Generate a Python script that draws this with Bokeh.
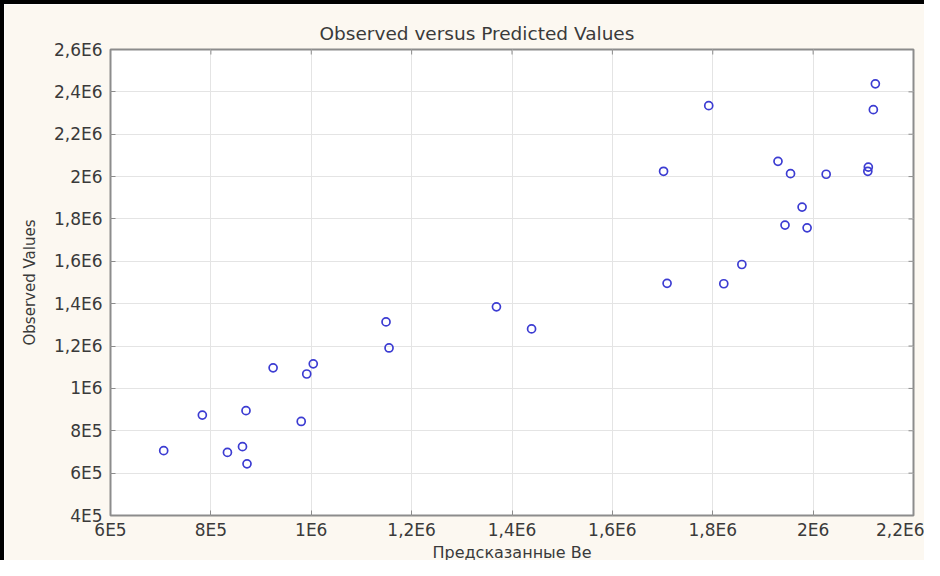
import math
from bokeh.plotting import figure
from bokeh.models import LinearAxis, FixedTicker, Range1d, Title
from bokeh.embed import file_html
from bokeh.resources import INLINE

# ---- data ----
predicted = [706e3, 783e3, 833e3, 863e3, 872e3, 870e3, 924e3, 980e3, 991e3, 1004e3,
             1149e3, 1155e3, 1369e3, 1439e3, 1702e3, 1709e3, 1792e3, 1822e3, 1858e3,
             1930e3, 1955e3, 1944e3, 1978e3, 1988e3, 2026e3, 2110e3, 2109e3, 2120e3, 2124e3]
observed = [706e3, 874e3, 698e3, 725e3, 644e3, 895e3, 1097e3, 844e3, 1068e3, 1116e3,
            1314e3, 1191e3, 1385e3, 1281e3, 2025e3, 1496e3, 2335e3, 1494e3, 1585e3,
            2072e3, 2014e3, 1771e3, 1856e3, 1758e3, 2011e3, 2045e3, 2025e3, 2316e3, 2438e3]

x_ticks = [6e5, 8e5, 1e6, 1.2e6, 1.4e6, 1.6e6, 1.8e6, 2e6, 2.2e6]
x_tick_labels = ["6E5", "8E5", "1E6", "1,2E6", "1,4E6", "1,6E6", "1,8E6", "2E6", "2,2E6"]
y_ticks = [4e5, 6e5, 8e5, 1e6, 1.2e6, 1.4e6, 1.6e6, 1.8e6, 2e6, 2.2e6, 2.4e6, 2.6e6]
y_tick_labels = ["4E5", "6E5", "8E5", "1E6", "1,2E6", "1,4E6", "1,6E6", "1,8E6", "2E6",
                 "2,2E6", "2,4E6", "2,6E6"]

title_text = "Observed versus Predicted Values"
x_title = "Предсказанные Be"
y_title = "Observed Values"

FONT = "DejaVu Sans"
TXT = "#3a3a3a"
CREAM = "#fcf8f1"
FRAME = "#8c8c8c"

x_lo, x_hi = x_ticks[0], x_ticks[-1]
y_lo, y_hi = y_ticks[0], y_ticks[-1]

p = figure(width=920, height=556, output_backend="svg", toolbar_location=None,
           x_range=Range1d(x_lo, x_hi), y_range=Range1d(y_lo, y_hi),
           x_axis_location=None, y_axis_location=None,
           min_border_left=106, min_border_right=15, min_border_top=45, min_border_bottom=43)
p.border_fill_color = CREAM
p.background_fill_color = "white"
p.outline_line_color = FRAME
p.outline_line_width = 2
p.styles = {"border-left": "4px solid black", "border-top": "4px solid black",
            "box-sizing": "content-box"}

t = Title(text=title_text, align="left", offset=209, text_font=FONT, standoff=12,
          text_font_size="18.5px", text_font_style="normal", text_color=TXT)
p.add_layout(t, "above")

xt = dict(zip(x_ticks, x_tick_labels))
yt = dict(zip(y_ticks, y_tick_labels))

def style_axis(ax, ticks, overrides):
    ax.ticker = FixedTicker(ticks=ticks)
    ax.major_label_overrides = dict(overrides)
    ax.major_tick_in = 5
    ax.major_tick_out = 0
    ax.major_tick_line_color = FRAME
    ax.major_tick_line_width = 1
    ax.minor_tick_line_color = None
    ax.axis_line_color = None
    ax.major_label_text_font = FONT
    ax.major_label_text_font_size = "17px"
    ax.major_label_text_color = TXT
    ax.axis_label_text_font = FONT
    ax.axis_label_text_font_size = "15px"
    ax.axis_label_text_font_style = "normal"
    ax.axis_label_text_color = TXT

xb = LinearAxis(axis_label=x_title)
style_axis(xb, x_ticks, xt)
xb.major_label_standoff = 4
xb.axis_label_standoff = 0
xb.axis_label_text_font_size = "16px"
p.add_layout(xb, "below")

yl = LinearAxis(axis_label=y_title)
style_axis(yl, y_ticks, yt)
yl.major_label_standoff = 8
yl.axis_label_standoff = 12
p.add_layout(yl, "left")

p.xgrid.ticker = FixedTicker(ticks=x_ticks)
p.ygrid.ticker = FixedTicker(ticks=y_ticks)
p.xgrid.grid_line_color = "#e4e4e4"
p.ygrid.grid_line_color = "#e4e4e4"

# inward ticks on the top and right edges (dash markers clipped by the frame)
p.scatter(x_ticks, [y_hi] * len(x_ticks), marker="dash", size=10, angle=math.pi / 2,
          line_color=FRAME, line_width=1)
p.scatter([x_hi] * len(y_ticks), y_ticks, marker="dash", size=10,
          line_color=FRAME, line_width=1)

p.scatter(predicted, observed, marker="circle", size=8, fill_color=None,
          line_color="#3c3cd2", line_width=1.7)

open("out.html", "w").write(file_html(p, INLINE))
